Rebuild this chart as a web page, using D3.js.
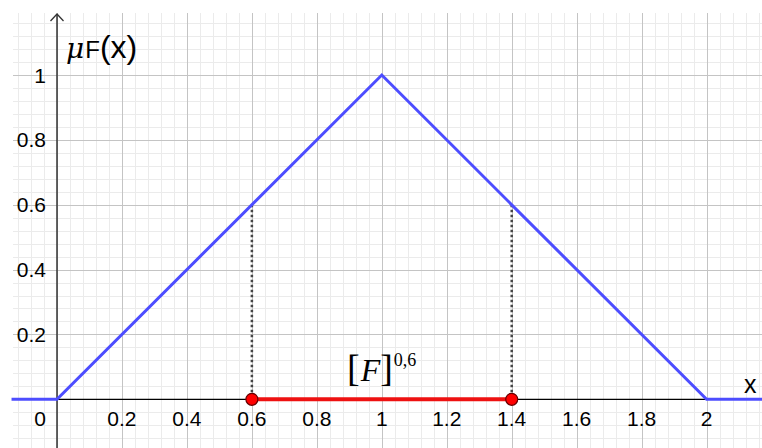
<!DOCTYPE html>
<html><head><meta charset="utf-8">
<script src="https://cdn.jsdelivr.net/npm/d3@7"></script>
<style>html,body{margin:0;padding:0;background:#fff}svg{display:block}</style>
</head><body>
<svg id="c" width="762" height="448"></svg>
<script>
// ---- data ----
const membershipX = [-0.14, 0, 1, 2, 2.18];
const membershipY = [0, 0, 1, 0, 0];
const alphaLevel = 0.6;
const cutPoints = [0.6, 1.4];
const xTickValues = [0.2, 0.4, 0.6, 0.8, 1, 1.2, 1.4, 1.6, 1.8, 2];
const xTickLabels = ["0.2", "0.4", "0.6", "0.8", "1", "1.2", "1.4", "1.6", "1.8", "2"];
const yTickValues = [0.2, 0.4, 0.6, 0.8, 1];
const yTickLabels = ["0.2", "0.4", "0.6", "0.8", "1"];

(function () {
const W = 762, H = 448;
const svg = d3.select("#c");
const x = d3.scaleLinear().domain([0, 2]).range([57, 706.6]);
const y = d3.scaleLinear().domain([0, 1]).range([399.3, 75]);
const gLeft = 13, gTop = 13;

// grid
const xMin = x.invert(gLeft), xMax = x.invert(W), yMin = y.invert(H), yMax = y.invert(gTop);
const minorStep = 0.04, majorStep = 0.2;
const grid = svg.append("g");
function steps(a, b, s) { const r = []; for (let k = Math.ceil(a / s - 1e-9); k * s <= b + 1e-9; k++) r.push(+(k * s).toFixed(6)); return r; }
steps(xMin, xMax, minorStep).forEach(v => grid.append("line").attr("x1", Math.round(x(v)) + 0.5).attr("x2", Math.round(x(v)) + 0.5).attr("y1", gTop).attr("y2", H).attr("stroke", "#ebebeb"));
steps(yMin, yMax, minorStep).forEach(v => grid.append("line").attr("y1", Math.round(y(v)) + 0.5).attr("y2", Math.round(y(v)) + 0.5).attr("x1", gLeft).attr("x2", W).attr("stroke", "#ebebeb"));
steps(xMin, xMax, majorStep).forEach(v => grid.append("line").attr("x1", Math.round(x(v)) + 0.5).attr("x2", Math.round(x(v)) + 0.5).attr("y1", gTop).attr("y2", H).attr("stroke", "#c4c4c4"));
steps(yMin, yMax, majorStep).forEach(v => grid.append("line").attr("y1", Math.round(y(v)) + 0.5).attr("y2", Math.round(y(v)) + 0.5).attr("x1", gLeft).attr("x2", W).attr("stroke", "#c4c4c4"));

// axes
svg.append("line").attr("x1", gLeft).attr("x2", W).attr("y1", y(0)).attr("y2", y(0)).attr("stroke", "#000").attr("stroke-width", 1.3);
svg.append("line").attr("x1", x(0)).attr("x2", x(0)).attr("y1", 14).attr("y2", H).attr("stroke", "#333").attr("stroke-width", 1.5);
svg.append("path").attr("d", `M${x(0) - 6.5},21 L${x(0)},14 L${x(0) + 6.5},21`).attr("fill", "none").attr("stroke", "#333").attr("stroke-width", 1.3);

const font = "'Liberation Sans', Arial, sans-serif";
// tick labels
const xt = svg.append("g").style("font-family", font).style("font-size", "21px").attr("fill", "#000");
xTickValues.forEach((v, i) => xt.append("text").attr("x", x(v)).attr("y", 426).attr("text-anchor", "middle").text(xTickLabels[i]));
xt.append("text").attr("x", 40).attr("y", 426).attr("text-anchor", "middle").text("0");
const yt = svg.append("g").style("font-family", font).style("font-size", "21px").attr("fill", "#000");
yTickValues.forEach((v, i) => yt.append("text").attr("x", 46).attr("y", y(v) + 7.5).attr("text-anchor", "end").text(yTickLabels[i]));

// dotted verticals
cutPoints.forEach(c => svg.append("line").attr("x1", x(c)).attr("x2", x(c)).attr("y1", y(alphaLevel)).attr("y2", y(0))
  .attr("stroke", "#444").attr("stroke-width", 2.5).attr("stroke-dasharray", "2.5,2.5"));

// membership function
const line = d3.line().x((d, i) => x(membershipX[i])).y((d, i) => y(membershipY[i]));
svg.append("path").attr("d", line(membershipX)).attr("fill", "none").attr("stroke", "#4d4dff").attr("stroke-width", 3).attr("stroke-linejoin", "miter");

// alpha cut
svg.append("line").attr("x1", x(cutPoints[0])).attr("x2", x(cutPoints[1])).attr("y1", y(0)).attr("y2", y(0))
  .attr("stroke", "#ee1111").attr("stroke-width", 4);
cutPoints.forEach(c => svg.append("circle").attr("cx", x(c)).attr("cy", y(0)).attr("r", 6).attr("fill", "#ff0000").attr("stroke", "#600").attr("stroke-width", 1.2));

// labels
const lab = svg.append("text").attr("x", 66).attr("y", 58).style("font-size", "32px").attr("fill", "#000");
lab.append("tspan").style("font-family", "'DejaVu Serif', serif").style("font-style", "italic").style("font-size", "28px").text("μ");
lab.append("tspan").style("font-family", font).style("font-size", "24px").attr("dx", 1).text("F");
lab.append("tspan").style("font-family", font).text("(x)");

svg.append("text").attr("x", 744).attr("y", 393).style("font-family", font).style("font-size", "25px").text("x");

const serif = "'Liberation Serif', serif";
const fl = svg.append("text").attr("x", 347).attr("y", 381).style("font-family", serif).attr("fill", "#000");
fl.append("tspan").style("font-size", "38px").text("[");
fl.append("tspan").style("font-size", "32px").style("font-style", "italic").attr("dx", 1).text("F");
fl.append("tspan").style("font-size", "38px").attr("dx", 0).text("]");
fl.append("tspan").style("font-size", "18px").attr("dy", -15).attr("dx", 1).text("0,6");
})();
</script>
</body></html>
